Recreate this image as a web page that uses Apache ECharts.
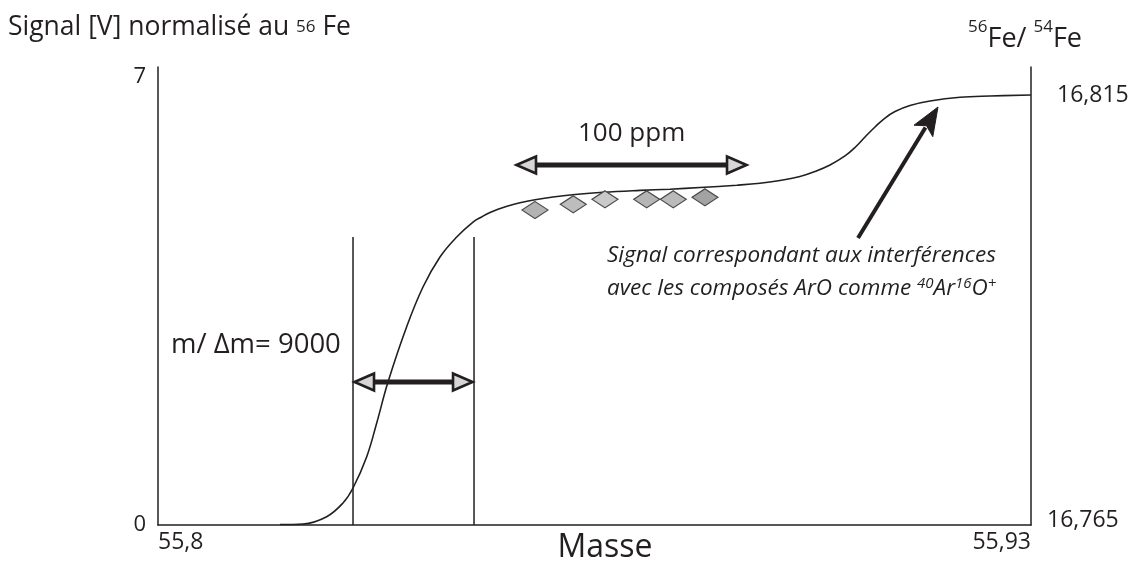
<!DOCTYPE html>
<html>
<head>
<meta charset="utf-8">
<script src="https://cdn.jsdelivr.net/npm/echarts@6/dist/echarts.min.js"></script>
<style>
  html, body { margin: 0; padding: 0; background: #ffffff; }
  #chart { width: 1130px; height: 562px; }
</style>
</head>
<body>
<div id="chart"></div>
<script>
// Mass axis (u) and its end labels
const massMin = 55.8;
const massMax = 55.93;
const massTicks = [55.8, 55.93];
const massTickLabels = ['55,8', '55,93'];

// Left axis: signal in V normalised to 56Fe
const signalMin = 0;
const signalMax = 7.156;
const signalTicks = [0, 7];
const signalTickLabels = ['0', '7'];

// Right axis: 56Fe/54Fe ratio
const ratioMin = 16.765;
const ratioMax = 16.81826;
const ratioTicks = [16.765, 16.815];
const ratioTickLabels = ['16,765', '16,815'];

// Peak-edge profile: mass vs signal
const curveMass = [
  55.81817, 55.82159, 55.82512, 55.82755, 55.82904, 55.83108, 55.83257, 55.83425,
  55.83703, 55.83946, 55.84199, 55.84448, 55.84691, 55.84825, 55.84944, 55.85063,
  55.85197, 55.85391, 55.85614, 55.85882, 55.86210, 55.86627, 55.87178, 55.87624,
  55.88071, 55.88618, 55.88965, 55.89262, 55.89560, 55.89784, 55.90007, 55.90230,
  55.90379, 55.90528, 55.90677, 55.90826, 55.90975, 55.91198, 55.91496, 55.91943,
  55.92390, 55.93
];
const curveSignal = [
  0.008, 0.016, 0.130, 0.344, 0.578, 1.067, 1.594, 2.234,
  3.098, 3.719, 4.188, 4.500, 4.734, 4.817, 4.883, 4.934,
  4.980, 5.034, 5.081, 5.125, 5.163, 5.198, 5.228, 5.247,
  5.273, 5.309, 5.339, 5.383, 5.445, 5.523, 5.625, 5.766,
  5.898, 6.063, 6.219, 6.359, 6.461, 6.555, 6.625, 6.683,
  6.703, 6.719
];

// Measured points on the plateau
const pointMass = [55.85614, 55.86184, 55.86656, 55.87277, 55.87673, 55.88145];
const pointSignal = [4.922, 5.011, 5.089, 5.089, 5.089, 5.120];
const pointShade = ['#b3b3b3', '#bdbdbd', '#c9c9c9', '#b5b5b5', '#bababa', '#a3a3a3'];

// Resolution window (m/Δm = 9000)
const windowMass = [55.82904, 55.84706];
const windowTop = 4.5;

// Double arrows: [from mass, to mass, signal level]
const doubleArrows = [
  [55.82904, 55.84706, 2.234],
  [55.85316, 55.88786, 5.625]
];

// Pointer to the ArO interference plateau: [tail mass, tail signal, tip mass, tip signal]
const pointerArrow = [[55.90424, 4.484, 55.91615, 6.531]];

const ink = '#231f20';
const font = 'Open Sans';

function fmtFrom(ticks, labels) {
  return function (v) {
    for (let i = 0; i < ticks.length; i++) {
      if (Math.abs(ticks[i] - v) < 1e-6) return labels[i];
    }
    return '';
  };
}

const chart = echarts.init(document.getElementById('chart'), null, { renderer: 'canvas' });

const option = {
  animation: false,
  backgroundColor: '#ffffff',
  grid: { left: 158, right: 99, top: 67, bottom: 37, outerBoundsMode: 'none' },
  xAxis: {
    type: 'value',
    min: massMin,
    max: massMax,
    axisLine: { show: true, lineStyle: { color: ink, width: 1.5 } },
    axisTick: { show: false },
    splitLine: { show: false },
    axisLabel: {
      customValues: massTicks,
      formatter: function (v) {
        const t = fmtFrom(massTicks, massTickLabels)(v);
        return Math.abs(v - massTicks[1]) < 1e-6 ? '{r|' + t + '}' : t;
      },
      color: ink, fontFamily: font, fontSize: 23, margin: 6,
      alignMinLabel: 'left', alignMaxLabel: 'right',
      rich: { r: { fontFamily: font, fontSize: 23, color: ink, padding: [0, 0, 0, 12] } }
    }
  },
  yAxis: [
    {
      type: 'value',
      position: 'left',
      min: signalMin,
      max: signalMax,
      axisLine: { show: true, lineStyle: { color: ink, width: 1.5 } },
      axisTick: { show: false },
      splitLine: { show: false },
      axisLabel: {
        customValues: signalTicks,
        formatter: fmtFrom(signalTicks, signalTickLabels),
        color: ink, fontFamily: font, fontSize: 22, margin: 12
      }
    },
    {
      type: 'value',
      position: 'right',
      min: ratioMin,
      max: ratioMax,
      axisLine: { show: true, lineStyle: { color: ink, width: 1.5 } },
      axisTick: { show: false },
      splitLine: { show: false },
      axisLabel: {
        customValues: ratioTicks,
        formatter: function (v) {
          const t = fmtFrom(ratioTicks, ratioTickLabels)(v);
          return Math.abs(v - ratioTicks[0]) < 1e-6 ? '{lo|' + t + '}' : '{hi|' + t + '}';
        },
        color: ink, fontFamily: font, fontSize: 23, margin: 16,
        rich: {
          lo: { fontFamily: font, fontSize: 23, color: ink, padding: [0, 0, 10, 0] },
          hi: { fontFamily: font, fontSize: 23, color: ink, padding: [0, 0, 0, 10] }
        }
      }
    }
  ],
  series: [
    {
      type: 'line',
      yAxisIndex: 0,
      data: curveMass.map((m, i) => [m, curveSignal[i]]),
      smooth: 0.4,
      symbol: 'none',
      lineStyle: { color: ink, width: 1.6 },
      z: 3
    },
    {
      type: 'custom',
      yAxisIndex: 0,
      data: windowMass.map(m => [m, windowTop]),
      renderItem: function (params, api) {
        const top = api.coord([api.value(0), api.value(1)]);
        const bottom = api.coord([api.value(0), 0]);
        return {
          type: 'line',
          shape: { x1: top[0], y1: top[1], x2: bottom[0], y2: bottom[1] },
          style: { stroke: ink, lineWidth: 1.5 }
        };
      },
      z: 2
    },
    {
      type: 'scatter',
      yAxisIndex: 0,
      data: pointMass.map((m, i) => ({
        value: [m, pointSignal[i]],
        itemStyle: { color: pointShade[i] }
      })),
      symbol: 'diamond',
      symbolSize: [26, 17],
      itemStyle: { borderColor: '#4a4a4a', borderWidth: 1.2, opacity: 1 },
      z: 4
    },
    {
      type: 'custom',
      yAxisIndex: 0,
      data: doubleArrows,
      renderItem: function (params, api) {
        const a = api.coord([api.value(0), api.value(2)]);
        const b = api.coord([api.value(1), api.value(2)]);
        const L = 21, H = 8.5;
        const headStyle = { fill: '#d6d6d6', stroke: ink, lineWidth: 2.6, lineJoin: 'miter' };
        return {
          type: 'group',
          children: [
            {
              type: 'line',
              shape: { x1: a[0] + L - 1, y1: a[1], x2: b[0] - L + 1, y2: b[1] },
              style: { stroke: ink, lineWidth: 5 }
            },
            {
              type: 'polygon',
              shape: { points: [[a[0] + 1.5, a[1]], [a[0] + L, a[1] - H], [a[0] + L, a[1] + H]] },
              style: headStyle
            },
            {
              type: 'polygon',
              shape: { points: [[b[0] - 1.5, b[1]], [b[0] - L, b[1] - H], [b[0] - L, b[1] + H]] },
              style: headStyle
            }
          ]
        };
      },
      z: 5
    },
    {
      type: 'custom',
      yAxisIndex: 0,
      data: pointerArrow,
      renderItem: function (params, api) {
        const t = api.coord([api.value(0), api.value(1)]);
        const p = api.coord([api.value(2), api.value(3)]);
        const dx = p[0] - t[0], dy = p[1] - t[1];
        const len = Math.sqrt(dx * dx + dy * dy);
        const ux = dx / len, uy = dy / len;
        const nx = -uy, ny = ux;
        const L = 28, W = 11;
        const bx = p[0] - ux * L, by = p[1] - uy * L;
        return {
          type: 'group',
          children: [
            {
              type: 'line',
              shape: { x1: t[0], y1: t[1], x2: bx + ux * 4, y2: by + uy * 4 },
              style: { stroke: ink, lineWidth: 4 }
            },
            {
              type: 'polygon',
              shape: {
                points: [
                  [p[0], p[1]],
                  [bx + nx * W, by + ny * W],
                  [bx + ux * 6, by + uy * 6],
                  [bx - nx * W, by - ny * W]
                ]
              },
              style: { fill: ink, stroke: ink, lineWidth: 1 }
            }
          ]
        };
      },
      z: 5
    }
  ],
  graphic: [
    {
      type: 'text',
      style: {
        x: 8, y: 27, verticalAlign: 'middle', align: 'left',
        text: '{a|Signal [V] normalisé au }{s|56}{a| Fe}',
        rich: {
          a: { fontFamily: font, fontSize: 26.5, fill: ink, lineHeight: 34 },
          s: { fontFamily: font, fontSize: 17, fill: ink, lineHeight: 34 }
        }
      }
    },
    {
      type: 'text',
      style: {
        x: 968, y: 36, verticalAlign: 'middle', align: 'left',
        text: '{s|56}{a|Fe/ }{s|54}{a|Fe}',
        rich: {
          a: { fontFamily: font, fontSize: 27, fill: ink, lineHeight: 34, verticalAlign: 'bottom' },
          s: { fontFamily: font, fontSize: 17, fill: ink, lineHeight: 20, verticalAlign: 'top' }
        }
      }
    },
    {
      type: 'text',
      style: { x: 605, y: 548, align: 'center', verticalAlign: 'middle', text: 'Masse', fontFamily: font, fontSize: 32, fill: ink }
    },
    {
      type: 'text',
      style: { x: 578, y: 134, align: 'left', verticalAlign: 'middle', text: '100 ppm', fontFamily: font, fontSize: 26, fill: ink }
    },
    {
      type: 'text',
      style: { x: 171, y: 345, align: 'left', verticalAlign: 'middle', text: 'm/ Δm= 9000', fontFamily: font, fontSize: 27.5, fill: ink }
    },
    {
      type: 'text',
      style: {
        x: 607, y: 272, align: 'left', verticalAlign: 'middle',
        text: '{a|Signal correspondant aux interférences}\n{a|avec les composés ArO comme }{s|40}{a|Ar}{s|16}{a|O}{s|+}',
        rich: {
          a: { fontFamily: font, fontStyle: 'italic', fontSize: 22.5, fill: ink, lineHeight: 33 },
          s: { fontFamily: font, fontStyle: 'italic', fontSize: 15, fill: ink, lineHeight: 33, padding: [0, 0, 9, 0] }
        }
      }
    }
  ]
};

chart.setOption(option);
</script>
</body>
</html>
